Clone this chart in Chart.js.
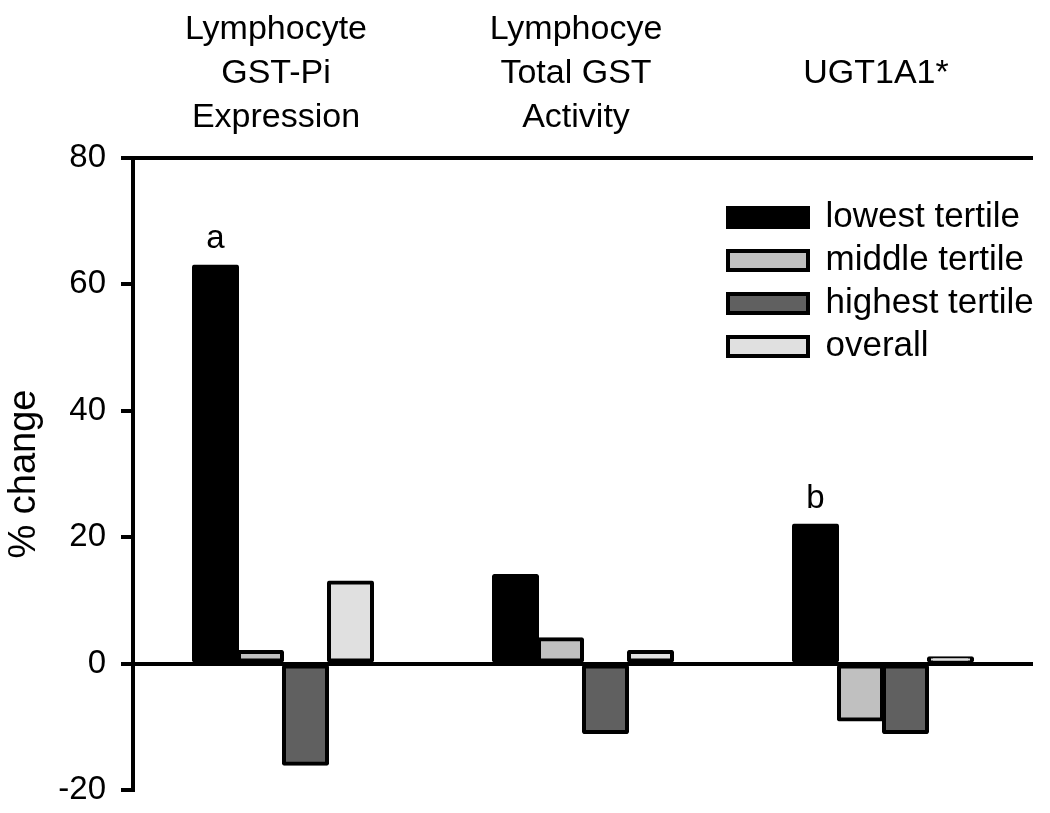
<!DOCTYPE html>
<html>
<head>
<meta charset="utf-8">
<script src="https://cdn.jsdelivr.net/npm/chart.js@4"></script>
<style>
  html, body { margin: 0; padding: 0; background: #fff; }
  #wrap { width: 1050px; height: 813px; }
</style>
</head>
<body>
<div id="wrap"><canvas id="chart" width="1050" height="813"></canvas></div>
<script>
// groups along the top
const categories = [
  ['Lymphocyte', 'GST-Pi', 'Expression'],
  ['Lymphocye', 'Total GST', 'Activity'],
  ['UGT1A1*']
];

// % change by tertile
const lowest = [63, 14, 22];
const middle = [2, 4, -9];
const highest = [-16, -11, -11];
const overall = [13, 2, 1];

// significance letters over the lowest tertile bars
const notes = ['a', '', 'b'];

const yTicks = [-20, 0, 20, 40, 60, 80];

const FONT = 'Liberation Sans, Arial, sans-serif';

// put the legend in the upper right of the plot
const legendMove = {
  id: 'legendMove',
  afterLayout(chart) {
    const lg = chart.legend;
    if (!lg) return;
    lg.left = 720;
    lg.top = 192;
    lg.right = lg.left + lg.width;
    lg.bottom = lg.top + lg.height;
  }
};

// category headers and the a / b letters
const extras = {
  id: 'extras',
  afterDatasetsDraw(chart) {
    const ctx = chart.ctx;
    const x = chart.scales.x;
    ctx.save();
    ctx.fillStyle = '#000';
    ctx.textAlign = 'center';
    ctx.textBaseline = 'middle';
    ctx.font = '34px ' + FONT;
    const lineH = 44;
    categories.forEach((lines, i) => {
      const cx = x.getPixelForValue(i) - 7;
      const y0 = 74 - (lines.length - 1) * lineH / 2;
      lines.forEach((t, j) => ctx.fillText(t, cx, y0 + j * lineH));
    });

    const meta = chart.getDatasetMeta(0);
    ctx.font = '33px ' + FONT;
    ctx.textBaseline = 'alphabetic';
    notes.forEach((n, i) => {
      if (!n) return;
      const bar = meta.data[i];
      ctx.fillText(n, bar.x, bar.y - 17);
    });
    ctx.restore();
  }
};

const ds = (label, data, color) => ({
  label,
  data,
  backgroundColor: color,
  borderColor: '#000',
  borderWidth: 4,
  borderRadius: 2,
  borderSkipped: false,
  inflateAmount: 1,
  categoryPercentage: 0.6,
  barPercentage: 1.0
});

new Chart(document.getElementById('chart'), {
  type: 'bar',
  data: {
    labels: categories.map(c => c.join(' ')),
    datasets: [
      ds('lowest tertile', lowest, '#000000'),
      ds('middle tertile', middle, '#c0c0c0'),
      ds('highest tertile', highest, '#606060'),
      ds('overall', overall, '#e0e0e0')
    ]
  },
  options: {
    responsive: false,
    animation: false,
    layout: { padding: { top: 158, right: 17, bottom: 23, left: 0 } },
    plugins: {
      legend: {
        position: 'chartArea',
        align: 'start',
        labels: {
          color: '#000',
          font: { family: FONT, size: 35 },
          boxWidth: 80,
          boxHeight: 19,
          padding: 8
        }
      },
      tooltip: { enabled: false }
    },
    scales: {
      x: {
        display: false
      },
      y: {
        min: -20,
        max: 80,
        afterBuildTicks: (scale) => { scale.ticks = yTicks.map(v => ({ value: v })); },
        afterFit: (scale) => {
          scale.width = 133;
          scale.paddingTop = 0;
          scale.paddingBottom = 0;
        },
        border: { display: true, color: '#000', width: 4 },
        grid: {
          lineWidth: 4,
          tickLength: 12,
          tickColor: '#000',
          color: (c) => (c.tick && (c.tick.value === 0 || c.tick.value === 80)) ? '#000' : 'rgba(0,0,0,0)'
        },
        ticks: {
          color: '#000',
          padding: 15,
          font: { family: FONT, size: 33 }
        },
        title: {
          display: true,
          text: '% change',
          color: '#000',
          padding: { top: 2, bottom: 0 },
          font: { family: FONT, size: 38 }
        }
      }
    }
  },
  plugins: [legendMove, extras]
});
</script>
</body>
</html>
